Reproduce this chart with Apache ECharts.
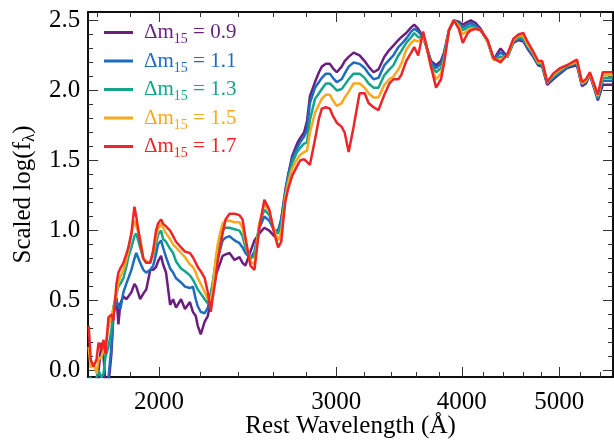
<!DOCTYPE html>
<html>
<head>
<meta charset="utf-8">
<script src="https://cdn.jsdelivr.net/npm/echarts/dist/echarts.min.js"></script>
<style>
  html, body { margin: 0; padding: 0; background: #fff; }
  #chart { width: 614px; height: 444px; }
</style>
</head>
<body>
<div id="chart"></div>
<script>
  // rest wavelength (Angstrom)
  var wave = [1702, 1710, 1721, 1733, 1741, 1753, 1761, 1769, 1781, 1793, 1801, 1814, 1822, 1830, 1843, 1855,
    1864, 1877, 1890, 1898, 1915, 1929, 1942, 1960, 1973, 1986, 1995, 2009, 2018, 2032, 2051, 2065, 2079,
    2103, 2122, 2146, 2161, 2175, 2185, 2200, 2220, 2236, 2251, 2261, 2277, 2287, 2303, 2313, 2329, 2350,
    2377, 2404, 2421, 2437, 2465, 2488, 2516, 2545, 2574, 2603, 2627, 2645, 2669, 2688, 2712, 2743, 2762,
    2787, 2806, 2825, 2858, 2884, 2903, 2930, 2957, 2977, 3004, 3038, 3059, 3087, 3122, 3165, 3202, 3231,
    3268, 3305, 3350, 3389, 3420, 3459, 3482, 3522, 3562, 3587, 3620, 3661, 3686, 3728, 3771, 3814, 3840,
    3884, 3928, 3973, 4009, 4055, 4083, 4130, 4177, 4244, 4302, 4371, 4441, 4502, 4554, 4606, 4648, 4701,
    4765, 4809, 4864, 4931, 5010, 5090, 5148, 5207, 5267, 5315, 5363, 5425, 5462, 5524, 5587, 5651]

  // scaled log flux for each decline rate
  var flux09 = [-0.2, -0.2, -0.2, -0.2, 0.0, 0.2, 0.1, -0.1, -0.1, 0.12, 0.40, 0.52, 0.33, 0.48, 0.53, 0.51,
    0.53, 0.56, 0.62, 0.60, 0.51, 0.55, 0.58, 0.72, 0.72, 0.74, 0.78, 0.82, 0.76, 0.70, 0.47, 0.51, 0.45,
    0.51, 0.44, 0.49, 0.42, 0.39, 0.32, 0.26, 0.35, 0.39, 0.50, 0.58, 0.68, 0.72, 0.78, 0.82, 0.83, 0.84,
    0.79, 0.81, 0.77, 0.75, 0.85, 0.93, 0.98, 1.02, 1.00, 0.96, 1.00, 1.08, 1.28, 1.40, 1.53, 1.62, 1.66,
    1.70, 1.78, 1.96, 2.06, 2.13, 2.17, 2.19, 2.19, 2.16, 2.13, 2.17, 2.21, 2.24, 2.27, 2.25, 2.21, 2.17,
    2.13, 2.15, 2.24, 2.29, 2.32, 2.36, 2.38, 2.41, 2.45, 2.47, 2.44, 2.38, 2.32, 2.21, 2.18, 2.21, 2.27,
    2.43, 2.50, 2.49, 2.47, 2.49, 2.50, 2.48, 2.44, 2.35, 2.22, 2.30, 2.24, 2.34, 2.36, 2.35, 2.30, 2.25,
    2.18, 2.17, 2.04, 2.08, 2.12, 2.16, 2.17, 2.18, 2.03, 2.05, 2.11, 2.00, 1.93, 2.04, 2.04, 2.04]
  var flux11 = [-0.2, -0.2, -0.2, -0.2, -0.2, -0.2, -0.1, -0.1, -0.05, 0.17, 0.40, 0.50, 0.46, 0.44, 0.56, 0.62,
    0.66, 0.72, 0.80, 0.84, 0.77, 0.72, 0.70, 0.72, 0.75, 0.83, 0.90, 0.93, 0.88, 0.81, 0.73, 0.70, 0.66,
    0.63, 0.60, 0.59, 0.60, 0.51, 0.46, 0.42, 0.41, 0.45, 0.55, 0.62, 0.74, 0.80, 0.88, 0.93, 0.95, 0.96,
    0.93, 0.91, 0.88, 0.84, 0.80, 0.85, 1.02, 1.10, 1.07, 1.00, 1.00, 1.07, 1.26, 1.39, 1.51, 1.59, 1.63,
    1.67, 1.72, 1.91, 2.02, 2.06, 2.09, 2.12, 2.12, 2.09, 2.06, 2.08, 2.12, 2.17, 2.20, 2.19, 2.16, 2.12,
    2.08, 2.09, 2.18, 2.22, 2.25, 2.31, 2.33, 2.37, 2.42, 2.44, 2.42, 2.38, 2.32, 2.20, 2.16, 2.19, 2.25,
    2.43, 2.50, 2.48, 2.45, 2.47, 2.48, 2.46, 2.43, 2.35, 2.22, 2.27, 2.24, 2.35, 2.37, 2.36, 2.31, 2.26,
    2.19, 2.18, 2.05, 2.09, 2.13, 2.17, 2.18, 2.19, 2.04, 2.06, 2.12, 2.01, 1.94, 2.07, 2.07, 2.07]
  var flux13 = [-0.05, -0.05, -0.1, -0.05, 0.0, -0.05, -0.02, 0.10, 0.17, 0.29, 0.45, 0.55, 0.60, 0.62, 0.66, 0.74,
    0.81, 0.88, 0.96, 0.98, 0.88, 0.80, 0.77, 0.78, 0.82, 0.90, 0.97, 1.00, 0.94, 0.92, 0.87, 0.84, 0.78,
    0.73, 0.71, 0.68, 0.65, 0.61, 0.58, 0.55, 0.51, 0.48, 0.55, 0.62, 0.79, 0.87, 0.96, 1.01, 1.02, 1.02,
    1.01, 1.00, 0.96, 0.88, 0.80, 0.82, 1.05, 1.15, 1.11, 1.00, 0.98, 1.04, 1.25, 1.37, 1.48, 1.56, 1.59,
    1.62, 1.63, 1.79, 1.94, 1.98, 2.01, 2.05, 2.05, 2.03, 2.00, 2.01, 2.04, 2.08, 2.12, 2.12, 2.09, 2.05,
    2.02, 2.02, 2.11, 2.15, 2.18, 2.25, 2.28, 2.34, 2.38, 2.41, 2.38, 2.38, 2.32, 2.18, 2.13, 2.16, 2.23,
    2.43, 2.50, 2.47, 2.43, 2.45, 2.46, 2.45, 2.43, 2.35, 2.22, 2.24, 2.24, 2.35, 2.38, 2.37, 2.32, 2.27,
    2.19, 2.19, 2.05, 2.10, 2.14, 2.17, 2.19, 2.20, 2.05, 2.07, 2.12, 2.02, 1.95, 2.09, 2.09, 2.09]
  var flux15 = [0.17, 0.02, 0.05, -0.02, 0.08, 0.10, 0.15, 0.19, 0.31, 0.40, 0.44, 0.55, 0.63, 0.67, 0.72, 0.79,
    0.86, 0.98, 1.07, 1.07, 0.95, 0.80, 0.78, 0.77, 0.84, 0.95, 1.01, 1.05, 1.02, 0.98, 0.94, 0.90, 0.88,
    0.84, 0.81, 0.76, 0.74, 0.70, 0.66, 0.62, 0.56, 0.51, 0.50, 0.58, 0.80, 0.90, 1.00, 1.05, 1.07, 1.07,
    1.06, 1.06, 1.02, 0.92, 0.78, 0.76, 1.05, 1.19, 1.14, 1.00, 0.93, 0.99, 1.23, 1.34, 1.44, 1.51, 1.54,
    1.56, 1.57, 1.70, 1.84, 1.90, 1.94, 1.97, 1.97, 1.93, 1.89, 1.91, 1.95, 1.99, 2.05, 2.05, 2.02, 1.98,
    1.95, 1.95, 2.04, 2.08, 2.10, 2.15, 2.19, 2.29, 2.34, 2.36, 2.35, 2.38, 2.33, 2.16, 2.08, 2.12, 2.21,
    2.43, 2.50, 2.46, 2.40, 2.43, 2.44, 2.44, 2.43, 2.35, 2.22, 2.22, 2.25, 2.36, 2.39, 2.39, 2.33, 2.28,
    2.20, 2.20, 2.06, 2.11, 2.15, 2.18, 2.19, 2.21, 2.05, 2.07, 2.12, 2.02, 1.96, 2.11, 2.11, 2.11]
  var flux17 = [0.32, 0.08, 0.03, 0.08, 0.20, 0.15, 0.22, 0.12, 0.38, 0.40, 0.36, 0.62, 0.70, 0.73, 0.77, 0.83,
    0.88, 0.98, 1.17, 1.10, 0.92, 0.80, 0.77, 0.77, 0.86, 1.00, 1.05, 1.08, 1.05, 1.03, 1.00, 0.96, 0.92,
    0.88, 0.85, 0.84, 0.81, 0.77, 0.74, 0.71, 0.66, 0.56, 0.42, 0.52, 0.66, 0.78, 0.90, 0.98, 1.08, 1.12,
    1.12, 1.11, 1.08, 0.95, 0.75, 0.72, 1.02, 1.22, 1.15, 0.98, 0.88, 0.92, 1.20, 1.30, 1.39, 1.46, 1.50,
    1.51, 1.49, 1.47, 1.65, 1.80, 1.87, 1.88, 1.87, 1.82, 1.77, 1.74, 1.70, 1.56, 1.74, 1.98, 1.98, 1.91,
    1.88, 1.86, 1.97, 2.05, 2.08, 2.08, 2.11, 2.21, 2.27, 2.31, 2.25, 2.42, 2.33, 2.17, 2.02, 2.08, 2.19,
    2.43, 2.50, 2.44, 2.34, 2.41, 2.43, 2.44, 2.43, 2.36, 2.23, 2.20, 2.26, 2.37, 2.40, 2.41, 2.35, 2.29,
    2.21, 2.21, 2.06, 2.12, 2.16, 2.18, 2.20, 2.22, 2.06, 2.08, 2.13, 2.03, 1.97, 2.13, 2.13, 2.13]

  var dm15 = ['0.9', '1.1', '1.3', '1.5', '1.7']
  var colors = ['#6a1f7e', '#1c6cbf', '#14a48b', '#fba81d', '#ee2428']
  var xMajor = [2000, 3000, 4000, 5000]
  var xMinor = [1735, 1870, 2200, 2400, 2600, 2800, 3200, 3400, 3600, 3800, 4200, 4400, 4600, 4800, 5250, 5490]
  var yMajor = [0, 0.5, 1.0, 1.5, 2.0, 2.5]
  var yMinor = [0.1, 0.2, 0.3, 0.4, 0.6, 0.7, 0.8, 0.9, 1.1, 1.2, 1.3, 1.4, 1.6, 1.7, 1.8, 1.9, 2.1, 2.2, 2.3, 2.4]

  var fluxes = [flux09, flux11, flux13, flux15, flux17]
  var font = 'Liberation Serif'

  function zip (ys) {
    return wave.map(function (w, i) { return [w, ys[i]] })
  }

  function xAx (pos, ticks, len, withLabels) {
    return {
      type: 'log', position: pos, min: 1700, max: 5655, gridIndex: 0,
      axisLine: { show: true, onZero: false, lineStyle: { color: '#000', width: 1.5 } },
      axisTick: { show: true, inside: true, length: len, customValues: ticks, lineStyle: { color: '#333', width: 1 } },
      axisLabel: withLabels ? { show: true, customValues: ticks, margin: 13, color: '#000', fontFamily: font, fontSize: 25,
        formatter: function (v) { return String(Math.round(v)) } } : { show: false },
      splitLine: { show: false },
      minorTick: { show: false },
      name: withLabels ? 'Rest Wavelength (Å)' : '',
      nameLocation: 'middle',
      nameGap: 37,
      nameMoveOverlap: false,
      nameTextStyle: { color: '#000', fontFamily: font, fontSize: 25 }
    }
  }

  function yAx (pos, ticks, len, withLabels) {
    return {
      type: 'value', position: pos, min: -0.045, max: 2.56, gridIndex: 0,
      axisLine: { show: true, onZero: false, lineStyle: { color: '#000', width: 1.5 } },
      axisTick: { show: true, inside: true, length: len, customValues: ticks, lineStyle: { color: '#333', width: 1 } },
      axisLabel: withLabels ? { show: true, customValues: ticks, margin: 8, color: '#000', fontFamily: font, fontSize: 25,
        formatter: function (v) { return v.toFixed(1) } } : { show: false },
      splitLine: { show: false },
      name: withLabels ? 'Scaled log(f{s|λ})' : '',
      nameLocation: 'middle',
      nameGap: 50,
      nameTextStyle: {
        color: '#000', fontFamily: font, fontSize: 25, lineHeight: 30,
        rich: { s: { fontFamily: font, fontSize: 17, lineHeight: 17, verticalAlign: 'bottom', color: '#000' } }
      }
    }
  }

  var chart = echarts.init(document.getElementById('chart'))
  var option = {
    backgroundColor: '#fff',
    animation: false,
    grid: { left: 85, right: 1, top: 12, bottom: 64, containLabel: false },
    xAxis: [
      xAx('bottom', xMajor, 10, true),
      xAx('bottom', xMinor, 5, false),
      xAx('top', xMajor, 10, false),
      xAx('top', xMinor, 5, false)
    ],
    yAxis: [
      yAx('left', yMajor, 10, true),
      yAx('left', yMinor, 5, false),
      yAx('right', yMajor, 10, false),
      yAx('right', yMinor, 5, false)
    ],
    legend: {
      orient: 'vertical',
      left: 104,
      top: 22,
      padding: 0,
      icon: 'rect',
      itemWidth: 29,
      itemHeight: 3,
      itemGap: 4,
      data: dm15.map(function (d, i) {
        return { name: 'Δm15 = ' + d, textStyle: { color: colors[i] } }
      }),
      formatter: function (name) {
        return '{g| }{m|Δm}{s|15}{m| = ' + name.split('= ')[1] + '}'
      },
      textStyle: {
        fontFamily: font,
        rich: {
          g: { width: 6, fontSize: 10 },
          m: { fontFamily: font, fontSize: 21, lineHeight: 22 },
          s: { fontFamily: font, fontSize: 14, lineHeight: 14, verticalAlign: 'bottom', padding: [0, 0, -3, 0] }
        }
      }
    },
    series: dm15.map(function (d, i) {
      return {
        name: 'Δm15 = ' + d,
        type: 'line',
        xAxisIndex: 0,
        yAxisIndex: 0,
        data: zip(fluxes[i]),
        showSymbol: false,
        symbol: 'none',
        clip: true,
        color: colors[i],
        lineStyle: { width: 2.5, color: colors[i] },
        z: 2 + i
      }
    })
  }
  chart.setOption(option)
  window.addEventListener('resize', chart.resize)
</script>
</body>
</html>
